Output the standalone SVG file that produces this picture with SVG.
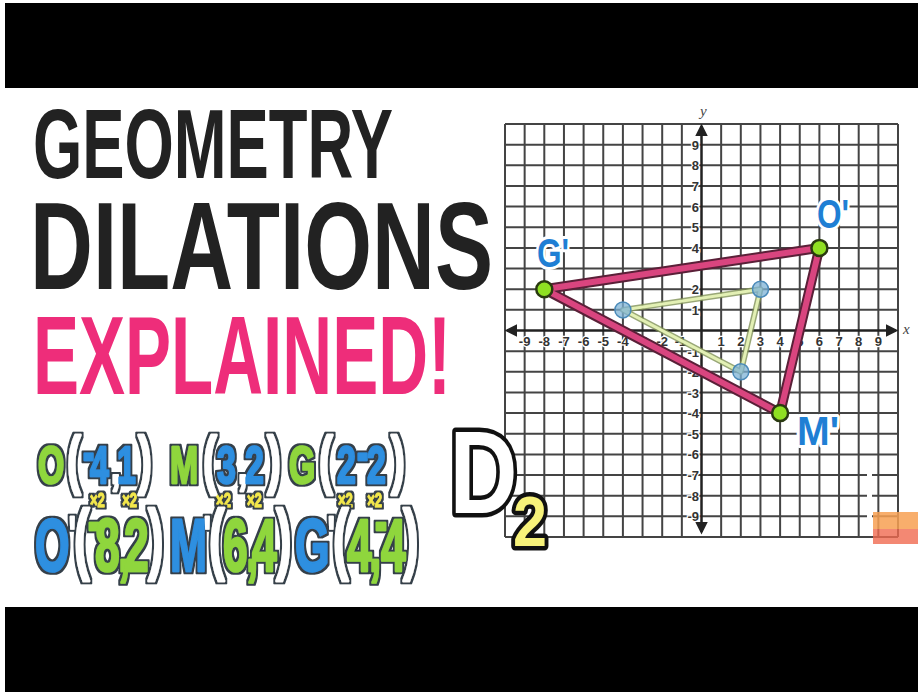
<svg xmlns="http://www.w3.org/2000/svg" width="918" height="692" viewBox="0 0 918 692">
<style>
.ttl{font-family:"Liberation Sans Narrow","Liberation Sans",Arial,sans-serif;font-weight:bold}
.row{font-family:"Liberation Sans",Arial,sans-serif;font-weight:bold;stroke-linejoin:round;paint-order:stroke}
.cg{fill:#8fd63c;stroke:#8fd63c}
.cb{fill:#2d8fe0;stroke:#2d8fe0}
.cp{fill:#ffffff;stroke:#ffffff}
.cy{fill:#f3e84c;stroke:#f3e84c}
.ax{font-family:"Liberation Sans",Arial,sans-serif;font-size:13px;font-weight:bold;fill:#333;stroke:#fff;stroke-width:2.5;paint-order:stroke}
.lab{font-family:"Liberation Sans Narrow","Liberation Sans",Arial,sans-serif;font-weight:bold;font-size:40px;fill:#1f7fd4;stroke:#fff;stroke-width:6;paint-order:stroke;stroke-linejoin:round}
.dot{fill:#8fe022;stroke:#2a3a10;stroke-width:2.5}
.bdot{fill:#7db3d6;fill-opacity:0.75;stroke:#4a8ab8;stroke-width:1.5}
</style>
<defs>
<marker id="arr" viewBox="0 0 10 10" refX="8" refY="5" markerWidth="5" markerHeight="5" orient="auto-start-reverse">
<path d="M0,0 L10,5 L0,10 z" fill="#222"/>
</marker>
<filter id="ol" x="-5%" y="-20%" width="110%" height="140%">
<feMorphology in="SourceAlpha" operator="dilate" radius="1.5" result="d"/>
<feFlood flood-color="#35404a"/>
<feComposite in2="d" operator="in" result="o"/>
<feMerge><feMergeNode in="o"/><feMergeNode in="SourceGraphic"/></feMerge>
</filter>
</defs>
<rect width="918" height="692" fill="#ffffff"/>
<rect x="5" y="3" width="913" height="85" fill="#000"/>
<rect x="5" y="607" width="913" height="85" fill="#000"/>

<g id="title">
<text class="ttl" x="33" y="178" font-size="98" fill="#222" textLength="360" lengthAdjust="spacingAndGlyphs">GEOMETRY</text>
<text class="ttl" x="30" y="289" font-size="124" fill="#222" textLength="463" lengthAdjust="spacingAndGlyphs">DILATIONS</text>
<text class="ttl" x="33" y="394" font-size="112" fill="#ee2d7a" textLength="418" lengthAdjust="spacingAndGlyphs">EXPLAINED!</text>
</g>

<g id="grid">
<path fill="none" stroke="#444" stroke-width="2" d="M505,124V537M524.65,124V537M544.3,124V537M563.95,124V537M583.6,124V537M603.25,124V537M622.9,124V537M642.55,124V537M662.2,124V537M681.85,124V537M721.15,124V537M740.8,124V537M760.45,124V537M780.1,124V537M799.75,124V537M819.4,124V537M839.05,124V537M858.7,124V537M878.35,124V537M898,124V537M505,124H898M505,144.65H898M505,165.3H898M505,185.95H898M505,206.6H898M505,227.25H898M505,247.9H898M505,268.55H898M505,289.2H898M505,309.85H898M505,351.15H898M505,371.8H898M505,392.45H898M505,413.1H898M505,433.75H898M505,454.4H898M505,475.05H898M505,495.7H898M505,516.35H898M505,537H898"/>
<rect x="867" y="472" width="5" height="63" fill="#fff"/>
<rect x="873" y="512" width="45" height="17" fill="#f7a052" opacity="0.85"/>
<rect x="873" y="529" width="45" height="15" fill="#f06a50" opacity="0.8"/>
</g>

<g id="axes">
<line x1="507" y1="330.5" x2="896" y2="330.5" stroke="#222" stroke-width="2.5" marker-start="url(#arr)" marker-end="url(#arr)"/>
<line x1="701.5" y1="126" x2="701.5" y2="532" stroke="#222" stroke-width="2.5" marker-start="url(#arr)" marker-end="url(#arr)"/>
<text x="903" y="334" font-family="Liberation Serif,serif" font-style="italic" font-size="15" fill="#444">x</text>
<text x="700" y="116" font-family="Liberation Serif,serif" font-style="italic" font-size="15" fill="#444">y</text>
<g text-anchor="middle">
<text class="ax" x="524.65" y="346">-9</text><text class="ax" x="544.3" y="346">-8</text><text class="ax" x="563.95" y="346">-7</text><text class="ax" x="583.6" y="346">-6</text><text class="ax" x="603.25" y="346">-5</text><text class="ax" x="622.9" y="346">-4</text><text class="ax" x="642.55" y="346">-3</text><text class="ax" x="662.2" y="346">-2</text><text class="ax" x="680.5" y="346">-1</text>
<text class="ax" x="721.15" y="346">1</text><text class="ax" x="740.8" y="346">2</text><text class="ax" x="760.45" y="346">3</text><text class="ax" x="780.1" y="346">4</text><text class="ax" x="799.75" y="346">5</text><text class="ax" x="819.4" y="346">6</text><text class="ax" x="839.05" y="346">7</text><text class="ax" x="858.7" y="346">8</text><text class="ax" x="878.35" y="346">9</text>
</g>
<g text-anchor="end">
<text class="ax" x="699" y="149.6">9</text><text class="ax" x="699" y="170.3">8</text><text class="ax" x="699" y="191">7</text><text class="ax" x="699" y="211.6">6</text><text class="ax" x="699" y="232.3">5</text><text class="ax" x="699" y="252.9">4</text><text class="ax" x="699" y="294.2">2</text><text class="ax" x="699" y="314.9">1</text>
<text class="ax" x="699" y="357">-1</text><text class="ax" x="699" y="376.8">-2</text><text class="ax" x="699" y="397.5">-3</text><text class="ax" x="699" y="418.1">-4</text><text class="ax" x="699" y="438.8">-5</text><text class="ax" x="699" y="459.4">-6</text><text class="ax" x="699" y="480">-7</text><text class="ax" x="699" y="500.7">-8</text><text class="ax" x="699" y="521.4">-9</text>
</g>
</g>

<g id="connectors">
<polygon points="622.9,309.9 760.5,289.2 740.8,371.8" fill="none" stroke="#7f9155" stroke-width="6" stroke-linejoin="round" opacity="0.8"/>
<polygon points="622.9,309.9 760.5,289.2 740.8,371.8" fill="none" stroke="#e3f0b4" stroke-width="3" stroke-linejoin="round"/>
<polygon points="544.3,289.2 819.4,247.9 780.1,413.1" fill="none" stroke="#5a2038" stroke-width="10" stroke-linejoin="round"/>
<polygon points="544.3,289.2 819.4,247.9 780.1,413.1" fill="none" stroke="#d9457f" stroke-width="6" stroke-linejoin="round"/>
</g>

<g id="O"><circle class="bdot" cx="622.9" cy="309.9" r="8"/></g>
<g id="M"><circle class="bdot" cx="760.5" cy="289.2" r="8"/></g>
<g id="G"><circle class="bdot" cx="740.8" cy="371.8" r="8"/></g>
<g id="G-prime"><circle class="dot" cx="544.3" cy="289.2" r="8"/><text class="lab" x="537" y="267" textLength="32" lengthAdjust="spacingAndGlyphs">G'</text></g>
<g id="O-prime"><circle class="dot" cx="819.4" cy="247.9" r="8"/><text class="lab" x="817" y="228" textLength="32" lengthAdjust="spacingAndGlyphs">O'</text></g>
<g id="M-prime"><circle class="dot" cx="780.1" cy="413.1" r="8"/><text class="lab" x="797" y="445" textLength="42" lengthAdjust="spacingAndGlyphs">M'</text></g>

<g id="D2">
<text class="ttl" x="449.5" y="512.5" font-size="116" fill="#fff" stroke="#111" stroke-width="9" stroke-linejoin="round" paint-order="stroke" textLength="68" lengthAdjust="spacingAndGlyphs">D</text>
<text class="ttl" x="513" y="546" font-size="70" fill="#f7f27a" stroke="#111" stroke-width="9" stroke-linejoin="round" paint-order="stroke" textLength="34" lengthAdjust="spacingAndGlyphs">2</text>
</g>

<g id="row1" filter="url(#ol)">
<text class="row" transform="scale(0.65,1)" font-size="52" stroke-width="2.5"><tspan class="cg" x="58.46" y="483">O</tspan><tspan class="cp" x="103.08" y="482" font-size="64">(</tspan><tspan class="cb" x="127.69" y="470">-</tspan><tspan class="cb" x="138.46" y="483">4</tspan><tspan class="cp" x="170.77" y="483">,</tspan><tspan class="cb" x="180" y="483">1</tspan><tspan class="cp" x="212.31" y="482" font-size="64">)</tspan><tspan class="cg" x="261.54" y="483">M</tspan><tspan class="cp" x="312.31" y="482" font-size="64">(</tspan><tspan class="cb" x="333.85" y="483">3</tspan><tspan class="cp" x="366.15" y="483">,</tspan><tspan class="cb" x="376.92" y="483">2</tspan><tspan class="cp" x="410.77" y="482" font-size="64">)</tspan><tspan class="cg" x="444.62" y="483">G</tspan><tspan class="cp" x="490.77" y="482" font-size="64">(</tspan><tspan class="cb" x="518.46" y="483">2</tspan><tspan class="cb" x="549.23" y="470">-</tspan><tspan class="cb" x="564.62" y="483">2</tspan><tspan class="cp" x="601.54" y="482" font-size="64">)</tspan><tspan class="cy" x="138.5" y="507" font-size="20" stroke-width="1">×2</tspan><tspan class="cy" x="188" y="507" font-size="20" stroke-width="1">×2</tspan><tspan class="cy" x="332.5" y="507" font-size="20" stroke-width="1">×2</tspan><tspan class="cy" x="380" y="507" font-size="20" stroke-width="1">×2</tspan><tspan class="cy" x="520" y="507" font-size="20" stroke-width="1">×2</tspan><tspan class="cy" x="565" y="507" font-size="20" stroke-width="1">×2</tspan></text>
</g>

<g id="row2" filter="url(#ol)">
<text class="row" transform="scale(0.6,1)" font-size="74" stroke-width="2.5"><tspan class="cb" x="58.33" y="571">O</tspan><tspan class="cp" x="115" y="549" font-size="46">'</tspan><tspan class="cp" x="123.33" y="565" font-size="78">(</tspan><tspan class="cg" x="146.67" y="542" font-size="60">-</tspan><tspan class="cg" x="158.33" y="571">8</tspan><tspan class="cg" x="196.67" y="571">,</tspan><tspan class="cg" x="206.67" y="571">2</tspan><tspan class="cp" x="246.67" y="565" font-size="78">)</tspan><tspan class="cb" x="283.33" y="571">M</tspan><tspan class="cp" x="340" y="549" font-size="46">'</tspan><tspan class="cp" x="348.33" y="565" font-size="78">(</tspan><tspan class="cg" x="371.67" y="571">6</tspan><tspan class="cg" x="410" y="571">,</tspan><tspan class="cg" x="420" y="571">4</tspan><tspan class="cp" x="460" y="565" font-size="78">)</tspan><tspan class="cb" x="491.67" y="571">G</tspan><tspan class="cp" x="546.67" y="549" font-size="46">'</tspan><tspan class="cp" x="555" y="565" font-size="78">(</tspan><tspan class="cg" x="578.33" y="571">4</tspan><tspan class="cg" x="615" y="571">,</tspan><tspan class="cg" x="625" y="542" font-size="60">-</tspan><tspan class="cg" x="635" y="571">4</tspan><tspan class="cp" x="671.67" y="565" font-size="78">)</tspan></text>
</g>
</svg>
